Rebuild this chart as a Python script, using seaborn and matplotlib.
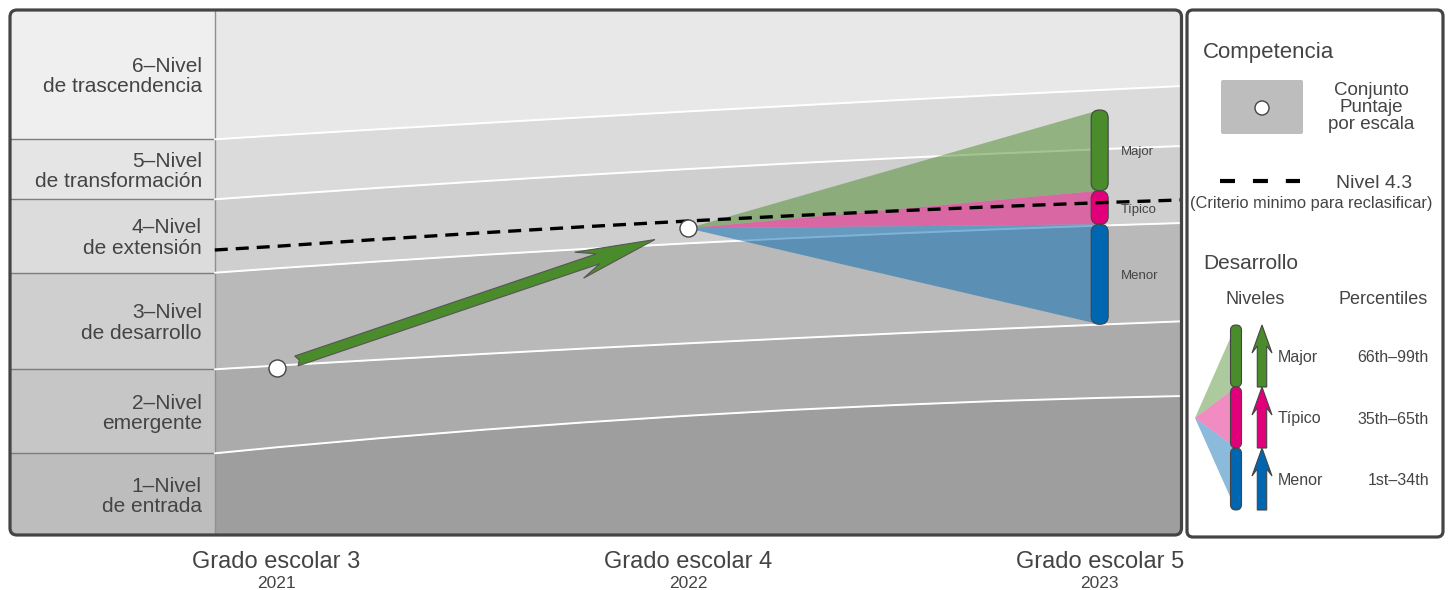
import numpy as np
import pandas as pd
import matplotlib
matplotlib.use("Agg")
import matplotlib.pyplot as plt
import matplotlib.transforms as mtransforms
from matplotlib.lines import Line2D
from matplotlib.patches import Circle, FancyBboxPatch, Polygon, Rectangle
import seaborn as sns

# posiciones sobre el eje de grado (3, 4, 5 = grados escolares)
grado_x = [2.85, 3.0, 3.25, 3.5, 3.75, 4.0, 4.25, 4.5, 4.75, 5.0, 5.2]

# puntos de corte entre niveles (puntaje de escala) en cada posicion
corte_1_2 = [82.7, 88.7, 97.8, 106.2, 113.7, 120.3, 126.1, 130.9, 135.0, 138.1, 140.0]
corte_2_3 = [166.7, 170.4, 176.3, 182.0, 187.5, 192.7, 197.7, 202.5, 207.1, 211.4, 214.7]
corte_3_4 = [263.3, 267.7, 274.6, 281.1, 287.1, 292.7, 297.8, 302.4, 306.7, 310.4, 313.0]
corte_4_5 = [336.7, 341.1, 348.2, 354.8, 361.1, 367.0, 372.6, 377.7, 382.5, 386.8, 390.0]
corte_5_6 = [396.7, 400.6, 406.8, 412.9, 418.8, 424.6, 430.2, 435.7, 441.0, 446.0, 450.0]
nivel_4_3 = [286.0, 289.7, 296.7, 303.2, 309.3, 315.0, 320.2, 325.0, 329.4, 333.3, 336.1]

niveles = [
    "1–Nivel\nde entrada",
    "2–Nivel\nemergente",
    "3–Nivel\nde desarrollo",
    "4–Nivel\nde extensión",
    "5–Nivel\nde transformación",
    "6–Nivel\nde trascendencia",
]

grados = [3, 4, 5]
grado_nombres = ["Grado escolar 3", "Grado escolar 4", "Grado escolar 5"]
anios = ["2021", "2022", "2023"]

alumno_grado = [3, 4]
alumno_puntaje = [168.3, 307.7]

# proyeccion al grado 5: limite superior de Major ... limite inferior de Menor
proyeccion_limites = [426.0, 345.3, 311.7, 211.7]
desarrollo = ["Major", "Típico", "Menor"]
percentiles = ["66th–99th", "35th–65th", "1st–34th"]

COLOR_DES = ["#4a8b2b", "#e2007a", "#0066b0"]
BANDA = ["#9e9e9e", "#ababab", "#b9b9b9", "#cfcfcf", "#dbdbdb", "#e8e8e8"]
COLUMNA = ["#bdbdbd", "#c6c6c6", "#cfcfcf", "#dcdcdc", "#e5e5e5", "#efefef"]
TEXTO = "#444444"
BORDE = "#444444"
Y_MAX = 527
X_MIN, X_INICIO, X_MAX = 2.35, 2.85, 5.2


def arrow_points(start, tip, half_w, head_w, head_len, neck_len, tail_notch=0.0):
    start, tip = np.asarray(start, float), np.asarray(tip, float)
    length = np.linalg.norm(tip - start)
    u = (tip - start) / length
    n = np.array([-u[1], u[0]])
    shape = [(tail_notch, 0), (0, -half_w), (length - neck_len, -half_w),
             (length - head_len, -head_w), (length, 0), (length - head_len, head_w),
             (length - neck_len, half_w), (0, half_w)]
    return [start + a * u + b * n for a, b in shape]


sns.set_theme(style="white")
plt.rcParams["font.family"] = ["Liberation Sans", "DejaVu Sans"]

W, H = 1452, 590
fig = plt.figure(figsize=(W / 100, H / 100), dpi=100)
fig.patch.set_facecolor("white")
# coordenadas en pixeles, origen arriba a la izquierda
pix = mtransforms.Affine2D().scale(1 / W, -1 / H).translate(0, 1) + fig.transFigure

ax = fig.add_axes([9 / W, 1 - 536 / H, 1173 / W, 527 / H])
ax.set_xlim(X_MIN, X_MAX)
ax.set_ylim(0, Y_MAX)
ax.axis("off")

cortes = [corte_1_2, corte_2_3, corte_3_4, corte_4_5, corte_5_6]
limites = [[0] * len(grado_x)] + cortes + [[Y_MAX] * len(grado_x)]

label_tr = mtransforms.offset_copy(ax.transData, fig=fig, x=-13, y=-2, units="dots")
for i, nombre in enumerate(niveles):
    lo, hi = limites[i], limites[i + 1]
    ax.fill_between(grado_x, lo, hi, color=BANDA[i], lw=0, zorder=1)
    ax.add_patch(Rectangle((X_MIN, lo[0]), X_INICIO - X_MIN, hi[0] - lo[0],
                           color=COLUMNA[i], lw=0, zorder=1))
    ax.text(X_INICIO, (lo[0] + hi[0]) / 2, nombre, transform=label_tr,
            ha="right", va="center", fontsize=15, color=TEXTO, linespacing=1.07)

ax.hlines([c[0] for c in cortes], X_MIN, X_INICIO, color="#7d7d7d", lw=1, zorder=2)
ax.vlines(X_INICIO, 0, Y_MAX, color="#8f8f8f", lw=1, zorder=2)

df_cortes = pd.DataFrame({
    "grado": grado_x * len(cortes),
    "puntaje": sum(cortes, []),
    "corte": np.repeat(np.arange(len(cortes)), len(grado_x)),
})
sns.lineplot(data=df_cortes, x="grado", y="puntaje", units="corte", estimator=None,
             sort=False, color="white", lw=1.4, ax=ax, zorder=2, legend=False)

# abanico de proyeccion desde el grado 4
x4, y4 = alumno_grado[1], alumno_puntaje[1]
for k in range(3):
    ax.add_patch(Polygon([(x4, y4), (grados[2], proyeccion_limites[k]),
                          (grados[2], proyeccion_limites[k + 1])],
                         closed=True, facecolor=COLOR_DES[k], alpha=0.5, lw=0, zorder=3))

ax.set_xlim(X_MIN, X_MAX)
ax.set_ylim(0, Y_MAX)


def to_px(x, y):
    return pix.inverted().transform(ax.transData.transform((x, y)))


# barras de desarrollo en grado 5
name_tr = mtransforms.offset_copy(ax.transData, fig=fig, x=21, y=-5, units="dots")
for k in range(3):
    cx, top = to_px(grados[2], proyeccion_limites[k])
    _, bot = to_px(grados[2], proyeccion_limites[k + 1])
    ax.add_patch(FancyBboxPatch((cx - 8.5, top), 17, bot - top,
                                boxstyle="round,pad=0,rounding_size=8", transform=pix,
                                facecolor=COLOR_DES[k], edgecolor=BORDE, lw=0.8, zorder=4))
    mid = (proyeccion_limites[k] + proyeccion_limites[k + 1]) / 2
    ax.text(grados[2], mid, desarrollo[k], transform=name_tr, ha="left", va="baseline",
            fontsize=9.5, color=TEXTO, zorder=4)

sns.lineplot(x=grado_x, y=nivel_4_3, color="black", lw=2.4, linestyle=(0, (3.9, 2.4)),
             ax=ax, zorder=5)

# flecha de crecimiento entre grado 3 y grado 4
p3 = to_px(alumno_grado[0], alumno_puntaje[0])
p4 = to_px(alumno_grado[1], alumno_puntaje[1])
u = (p4 - p3) / np.linalg.norm(p4 - p3)
ax.add_patch(Polygon(arrow_points(p3 + 21 * u, p4 - 35 * u, 5.2, 13.7, 80, 60, 3),
                     closed=True, transform=pix, facecolor=COLOR_DES[0],
                     edgecolor="#555555", lw=0.8, zorder=5))

sns.scatterplot(x=alumno_grado, y=alumno_puntaje, s=150, color="white",
                edgecolor=BORDE, linewidth=1, ax=ax, zorder=6, legend=False)

ax.set_xlim(X_MIN, X_MAX)
ax.set_ylim(0, Y_MAX)

clip = FancyBboxPatch((9.5, 9.5), 1172, 526, boxstyle="round,pad=0,rounding_size=7",
                      transform=pix)
for art in ax.collections + ax.lines + ax.patches:
    art.set_clip_path(clip)

fig.add_artist(FancyBboxPatch((10, 10), 1171.5, 525, boxstyle="round,pad=0,rounding_size=7",
                              transform=pix, fill=False, edgecolor=BORDE, lw=2.3, zorder=5))

# etiquetas de grado
for g, nombre, anio in zip(grados, grado_nombres, anios):
    gx = to_px(g, 0)[0]
    fig.text(gx, 568, nombre, transform=pix, ha="center", va="baseline",
             fontsize=17, color=TEXTO)
    fig.text(gx, 588, anio, transform=pix, ha="center", va="baseline",
             fontsize=12.5, color=TEXTO)

# leyenda
fig.add_artist(FancyBboxPatch((1187, 10), 256, 527, boxstyle="round,pad=0,rounding_size=6",
                              transform=pix, facecolor="white", edgecolor=BORDE, lw=2.3,
                              zorder=5))
fig.text(1203, 58, "Competencia", transform=pix, ha="left", va="baseline",
         fontsize=16, color=TEXTO, zorder=6)
fig.add_artist(FancyBboxPatch((1221, 80), 82, 54, boxstyle="round,pad=0,rounding_size=2",
                              transform=pix, facecolor="#bdbdbd", edgecolor="none", zorder=6))
fig.add_artist(Circle((1262, 108), 7, transform=pix, facecolor="white",
                      edgecolor=BORDE, lw=1, zorder=7))
for texto, base in zip(["Conjunto", "Puntaje", "por escala"], [95, 112, 129]):
    fig.text(1371, base, texto, transform=pix, ha="center", va="baseline",
             fontsize=13.5, color=TEXTO, zorder=6)
fig.add_artist(Line2D([1220, 1300], [181, 181], transform=pix, color="black", lw=3,
                      linestyle=(0, (3.6, 4.3)), zorder=6))
fig.text(1374, 188, "Nivel 4.3", transform=pix, ha="center", va="baseline",
         fontsize=14, color=TEXTO, zorder=6)
fig.text(1311, 208, "(Criterio minimo para reclasificar)", transform=pix, ha="center",
         va="baseline", fontsize=11.8, color=TEXTO, zorder=6)
fig.text(1203, 269, "Desarrollo", transform=pix, ha="left", va="baseline",
         fontsize=15, color=TEXTO, zorder=6)
fig.text(1255, 304, "Niveles", transform=pix, ha="center", va="baseline",
         fontsize=13, color=TEXTO, zorder=6)
fig.text(1383, 304, "Percentiles", transform=pix, ha="center", va="baseline",
         fontsize=13, color=TEXTO, zorder=6)

leg_y = [325, 387, 448, 510]
for k in range(3):
    top, bot = leg_y[k], leg_y[k + 1]
    fig.add_artist(Polygon([(1195, 418), (1236, top), (1236, bot)], closed=True,
                           transform=pix, facecolor=COLOR_DES[k], alpha=0.45, lw=0,
                           zorder=6))
    fig.add_artist(FancyBboxPatch((1230.5, top), 11, bot - top,
                                  boxstyle="round,pad=0,rounding_size=5.5", transform=pix,
                                  facecolor=COLOR_DES[k], edgecolor=BORDE, lw=0.8, zorder=7))
    fig.add_artist(Polygon(arrow_points((1262, bot), (1262, top), 4.7, 10, 28, 21),
                           closed=True, transform=pix, facecolor=COLOR_DES[k],
                           edgecolor=BORDE, lw=0.8, zorder=7))
    base = (top + bot) / 2 + 6
    fig.text(1278, base, desarrollo[k], transform=pix, ha="left", va="baseline",
             fontsize=11.5, color=TEXTO, zorder=7)
    fig.text(1429, base, percentiles[k], transform=pix, ha="right", va="baseline",
             fontsize=11.5, color=TEXTO, zorder=7)

fig.savefig("out.png", dpi=100)
